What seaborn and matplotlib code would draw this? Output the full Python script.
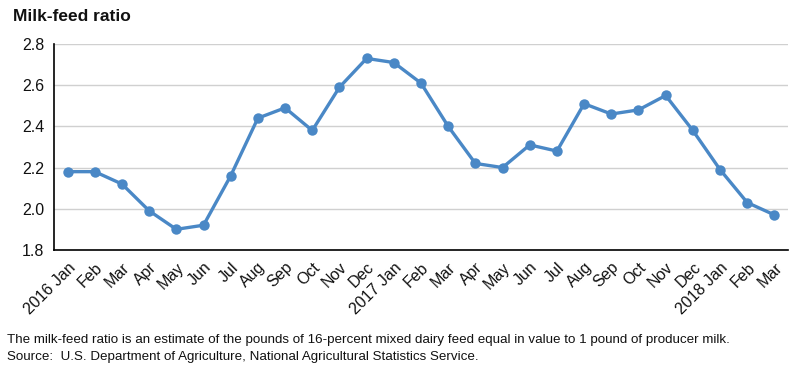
import pandas as pd
import seaborn as sns
import matplotlib.pyplot as plt

months = ['2016 Jan', 'Feb', 'Mar', 'Apr', 'May', 'Jun', 'Jul', 'Aug', 'Sep', 'Oct', 'Nov', 'Dec',
          '2017 Jan', 'Feb', 'Mar', 'Apr', 'May', 'Jun', 'Jul', 'Aug', 'Sep', 'Oct', 'Nov', 'Dec',
          '2018 Jan', 'Feb', 'Mar']
ratio = [2.18, 2.18, 2.12, 1.99, 1.90, 1.92, 2.16, 2.44, 2.49, 2.38, 2.59, 2.73,
         2.71, 2.61, 2.40, 2.22, 2.20, 2.31, 2.28, 2.51, 2.46, 2.48, 2.55, 2.38,
         2.19, 2.03, 1.97]
y_ticks = [1.8, 2.0, 2.2, 2.4, 2.6, 2.8]

df = pd.DataFrame({'idx': range(len(months)), 'ratio': ratio})

sns.set_theme(style="white")
plt.rcParams['font.family'] = ['Liberation Sans', 'DejaVu Sans']
plt.rcParams['text.color'] = '#111111'
plt.rcParams['xtick.color'] = '#111111'
plt.rcParams['ytick.color'] = '#111111'

fig = plt.figure(figsize=(8, 3.73), dpi=100)
ax = fig.add_axes([0.0675, 0.330, 0.9175, 0.552])

sns.lineplot(data=df, x='idx', y='ratio', ax=ax, color='#4a88c6', linewidth=2.4,
             marker='o', markersize=7.5, markeredgewidth=0)

ax.set_xlim(-0.5, len(months) - 0.5)
ax.set_ylim(1.8, 2.8)
ax.set_yticks(y_ticks)
ax.set_yticklabels([f'{v:.1f}' for v in y_ticks], fontsize=11.5)
ax.set_xticks(range(len(months)))
ax.set_xticklabels(months, rotation=45, ha='right', rotation_mode='anchor', fontsize=11.5)
ax.tick_params(axis='both', length=0, pad=7)
ax.yaxis.grid(True, color='#d0d0d0', linewidth=1)
ax.set_axisbelow(True)
ax.set_xlabel('')
ax.set_ylabel('')
for s in ['top', 'right']:
    ax.spines[s].set_visible(False)
for s in ['left', 'bottom']:
    ax.spines[s].set_color('black')
    ax.spines[s].set_linewidth(1.2)

fig.text(0.016, 0.955, 'Milk-feed ratio', fontsize=12.5, fontweight='bold', va='center')
fig.text(0.009, 0.088, 'The milk-feed ratio is an estimate of the pounds of 16-percent mixed dairy feed '
         'equal in value to 1 pound of producer milk.', fontsize=9.6, va='center')
fig.text(0.009, 0.044, 'Source:  U.S. Department of Agriculture, National Agricultural Statistics Service.',
         fontsize=9.6, va='center')

plt.savefig('out.png', dpi=100)
